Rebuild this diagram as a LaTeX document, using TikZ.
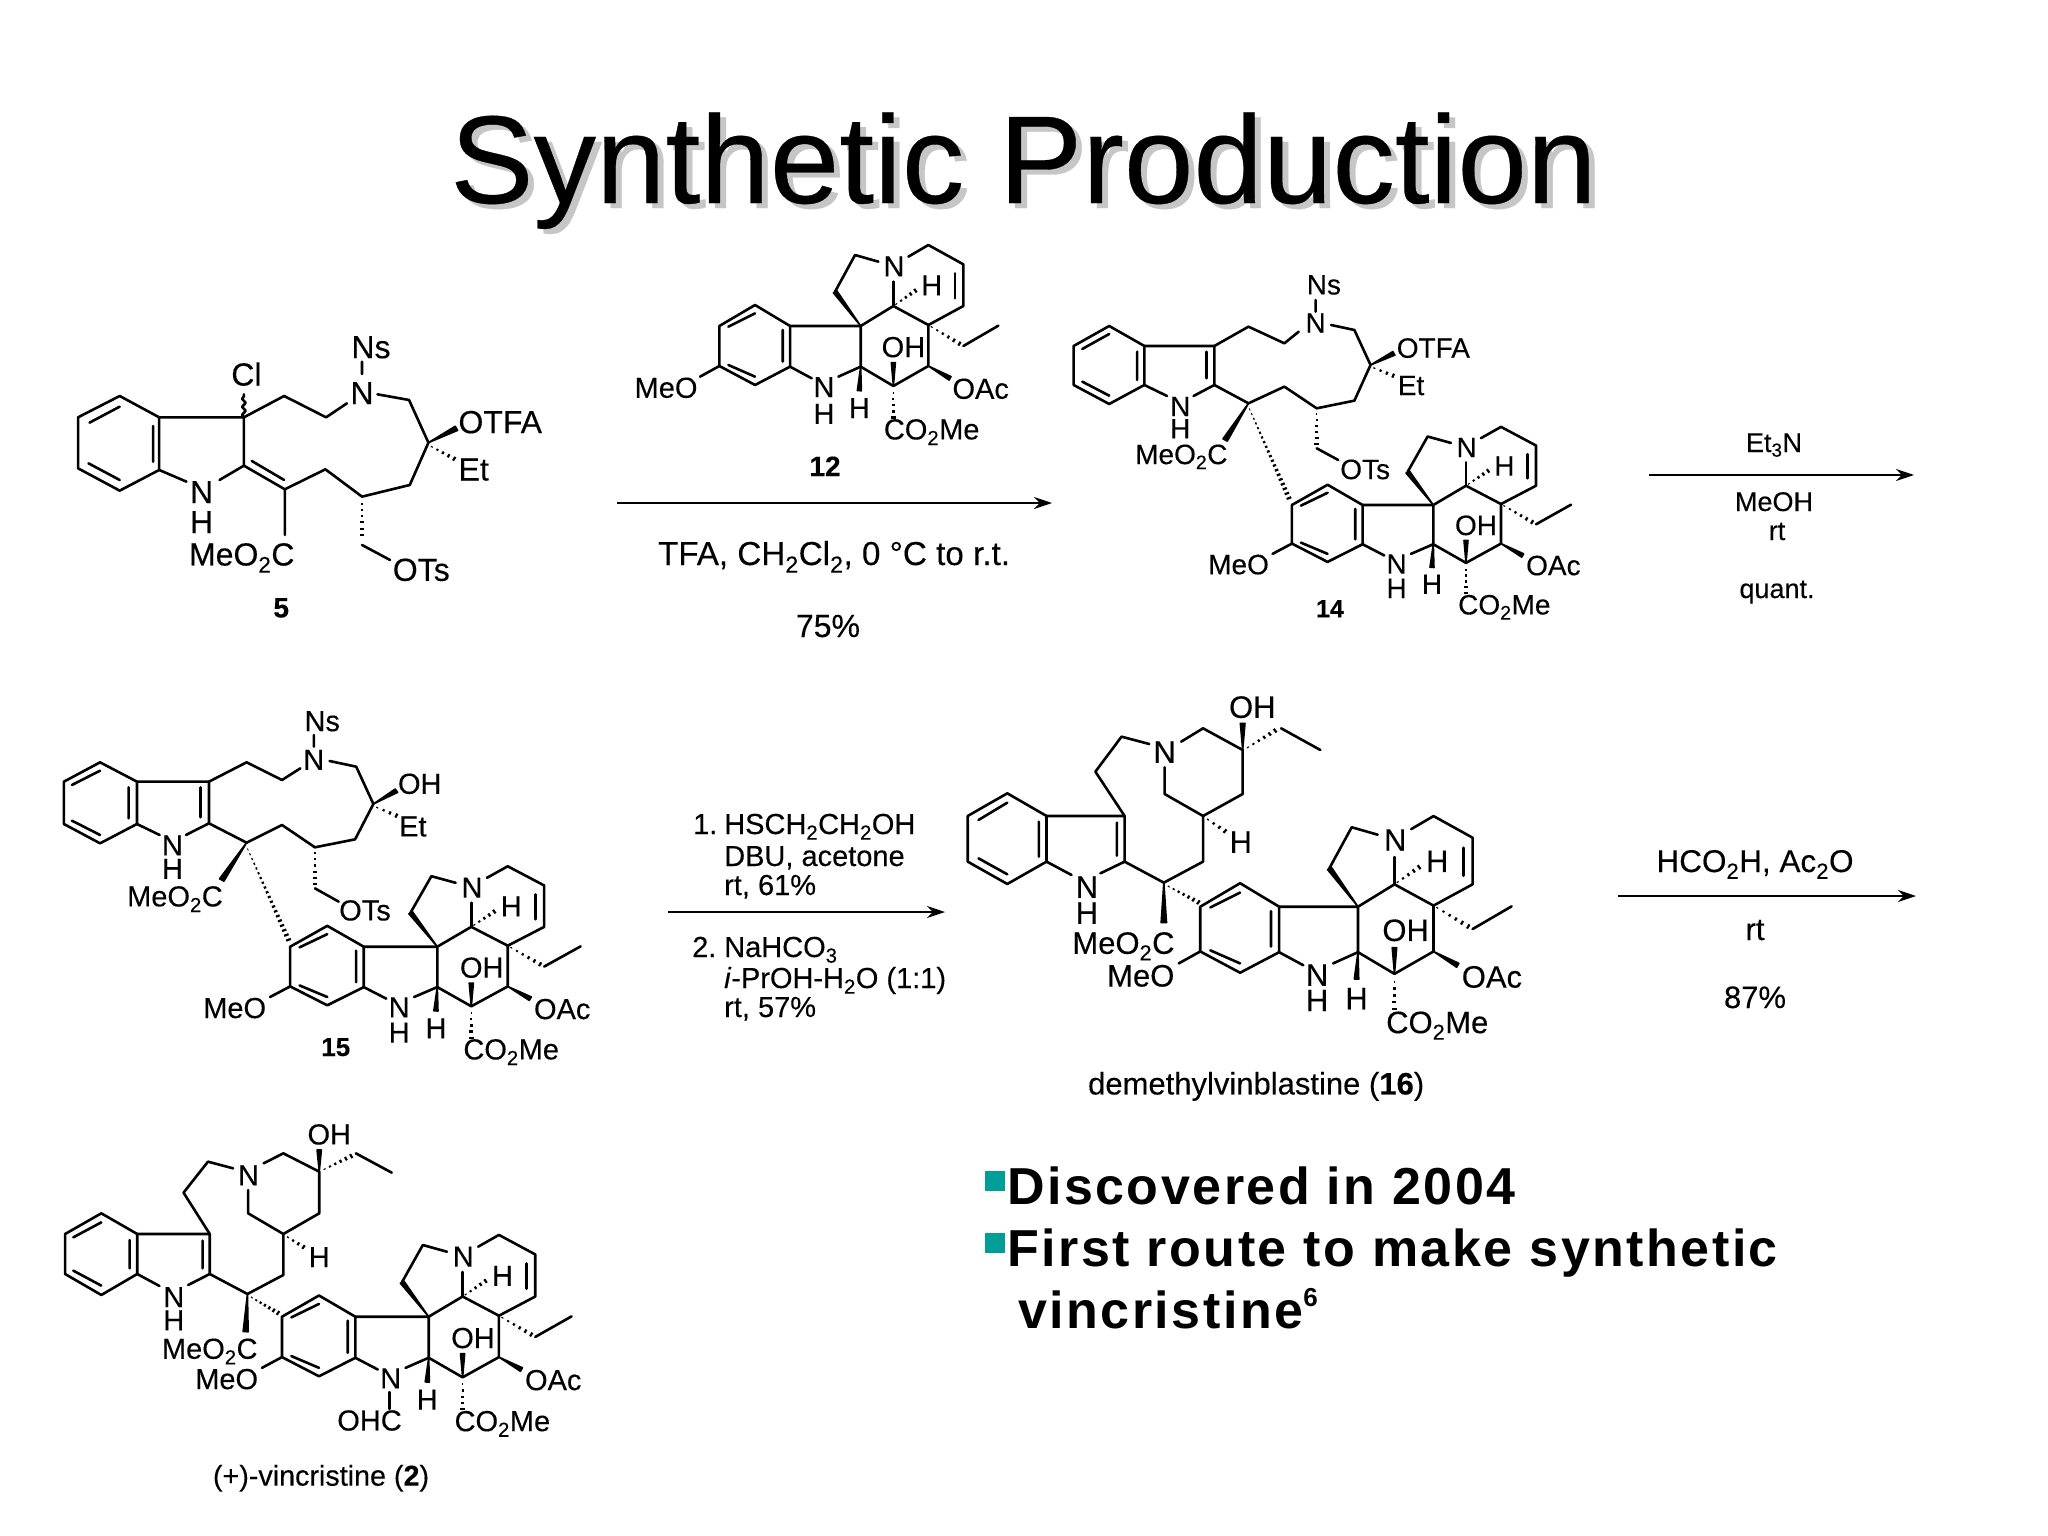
\documentclass[tikz,border=0pt]{standalone}
\usepackage{fontspec}
\setmainfont[FakeBold=0.25]{Liberation Sans}
\newfontfamily\bulletfont[LetterSpace=4.8]{Liberation Sans}
\usetikzlibrary{calc,arrows.meta,decorations.pathmorphing}
\tikzset{
  bond/.style={line width=2.6pt,line join=round,line cap=round},
  hashline/.style={line width=2.2pt},
  atom/.style={inner sep=0pt,font=\fontsize{#1}{#1}\selectfont,text height=#1pt*.72,text depth=0pt},
  reagent/.style={inner sep=0pt,anchor=base,font=\fontsize{#1}{#1}\selectfont},
  rxnarrow/.style={line width=2.2pt,-{Stealth[length=18pt,width=12pt]}},
  bulletbox/.style={fill=teal0,minimum size=20pt,inner sep=0pt},
  bullettext/.style={inner sep=0pt,anchor=base west,font=\fontsize{52}{52}\selectfont\bulletfont\bfseries},
  titletext/.style={inner sep=0pt,anchor=base west,font=\fontsize{125}{125}\selectfont}
}
\definecolor{teal0}{RGB}{0,158,150}
\newcommand\hashbond[3]{\foreach \i in {1,...,#3}{%
  \pgfmathsetmacro\hfrac{(\i-0.4)/#3}\pgfmathsetmacro\hwid{1+6*\hfrac}%
  \draw[hashline] ($(#1)!\hfrac!(#2)!\hwid pt!90:(#2)$) -- ($(#1)!\hfrac!(#2)!\hwid pt!-90:(#2)$);}}
\newcommand\wedgebond[3]{\filldraw[line width=1.6pt,line join=round] (#1) -- ($(#2)!#3pt!90:(#1)$) -- ($(#2)!#3pt!-90:(#1)$) -- cycle;}
\newcommand\vindoline[7]{%
\begin{scope}[name prefix=#1-,shift={(#2,#3)},xscale=#4,yscale=#5,shift={(-722,-288)},every node/.style={atom=#6}]
\draw[bond] (405,225)--(510,288)--(510,410)--(405,465)--(298,408)--(298,288)--cycle;
\draw[bond] (325,290)--(405,250) (488,300)--(488,395) (325,405)--(405,440);
\draw[bond] (510,288)--(722,288)--(722,410)--(820,468)--(925,408)--(925,285)--(820,228)--(722,288);
\draw[bond] (510,410)--(575,445) (655,440)--(722,410);
\draw[bond] (925,285)--(1030,228)--(1030,103)--(925,45)--(865,80);
\draw[bond] (1005,130)--(1005,205) (820,228)--(820,155);
\draw[bond] (775,95)--(705,75)--(645,185);
\draw[bond] (298,408)--(240,440) (1030,348)--(1135,287);
\wedgebond{722,288}{645,185}{6}
\wedgebond{722,410}{718,482}{6}
\wedgebond{820,468}{820,398}{6}
\wedgebond{925,408}{990,445}{6}
\hashbond{820,228}{892,178}{5}
\hashbond{925,285}{1025,345}{6}
\hashbond{820,478}{820,570}{5}
\node (nring) at (822,108) {N};
\node (hring) at (935,165) {H};
\node (oh) at (850,350) {OH};
\node (oac) at (1082,475) {OAc};
\node (meo) at (138,472) {MeO};
\node (ester) at (935,597) {CO\textsubscript{2}Me};
\node (nind) at (612,470) {N};
\node (hbelow) at (718,533) {H};
#7
\end{scope}}
\begin{document}
\begin{tikzpicture}[x=1pt,y=-1pt]
\useasboundingbox (0,0) rectangle (2048,1536);
\node[titletext,text=gray!45] (titleshade) at (456,208) {Synthetic Production};
\node[titletext] (title) at (450,203) {Synthetic Production};

\begin{scope}[name prefix=m5-,shift={(40,300)},xscale=.359,yscale=.3333,every node/.style={atom=32}]
\draw[bond] (222,288)--(332,352)--(332,510)--(222,572)--(106,505)--(106,352)--cycle;
\draw[bond] (138,368)--(222,320) (315,378)--(315,485) (135,490)--(222,540);
\draw[bond] (332,352)--(568,352)--(568,497)--(682,568)--(795,508)--(897,590)--(1030,555)--(1082,428)--(1028,300)--(940,283);
\draw[bond] (590,483)--(680,540) (332,510)--(408,545) (500,540)--(568,497);
\draw[bond] (568,352)--(680,288)--(797,352)--(855,310) (897,185)--(897,222);
\draw[bond] (682,568)--(682,705) (897,735)--(975,780);
\draw[bond,decorate,decoration={snake,amplitude=1.8pt,segment length=8pt}] (568,352)--(568,283);
\wedgebond{1082,428}{1160,385}{7}
\hashbond{1082,435}{1160,480}{5}
\hashbond{897,600}{897,712}{6}
\node (cl) at (575,222) {Cl};
\node (ns) at (922,140) {Ns};
\node (nring) at (897,278) {N};
\node (otfa) at (1282,365) {OTFA};
\node (et) at (1208,507) {Et};
\node (nind) at (450,575) {N};
\node (hind) at (450,665) {H};
\node (ester) at (562,762) {MeO\textsubscript{2}C};
\node (ots) at (1062,808) {OTs};
\node[atom=28] (label) at (672,922) {\textbf{5}};
\end{scope}

\vindoline{m12}{860.7}{326}{.3333}{.3333}{29}{%
\node (hind) at (612,550) {H};
\node[atom=28] (label) at (615,708) {\textbf{12}};}

\coordinate (a1s) at (617,503);
\coordinate (a1e) at (1052,503);
\draw[rxnarrow] (a1s) -- (a1e);
\node[reagent=33.2] (a1c) at (834,565) {TFA, CH\textsubscript{2}Cl\textsubscript{2}, 0 °C to r.t.};
\node[reagent=32] (a1y) at (828,637) {75\%};

\begin{scope}[name prefix=m14-,shift={(1060,250)},xscale=.359,yscale=.3333,every node/.style={atom=28}]
\draw[bond] (137,228)--(235,288)--(235,405)--(137,462)--(38,405)--(38,288)--cycle;
\draw[bond] (62,297)--(137,252) (215,305)--(215,390) (62,395)--(137,437);
\draw[bond] (235,288)--(430,288)--(430,405)--(525,460)--(625,410)--(715,475)--(820,452)--(865,345)--(820,240)--(755,225);
\draw[bond] (408,305)--(408,385) (235,405)--(298,438) (372,438)--(430,405);
\draw[bond] (430,288)--(525,230)--(625,280)--(665,245) (712,150)--(712,185) (715,595)--(775,630);
\wedgebond{865,345}{930,310}{6}
\wedgebond{525,460}{460,570}{7}
\hashbond{865,350}{935,380}{4}
\hashbond{525,470}{640,750}{20}
\hashbond{715,480}{715,590}{6}
\node (ns) at (735,103) {Ns};
\node (nring) at (712,218) {N};
\node (otfa) at (1040,293) {OTFA};
\node (et) at (978,405) {Et};
\node (nind) at (335,468) {N};
\node (hind) at (335,535) {H};
\node (ester) at (338,612) {MeO\textsubscript{2}C};
\node (ots) at (850,657) {OTs};
\node[atom=25] (label) at (752,1075) {\textbf{14}};
\end{scope}
\vindoline{f14}{1433.3}{505}{.3335}{.3215}{28}{\node (hind) at (612,546) {H};}

\coordinate (a2s) at (1649,475);
\coordinate (a2e) at (1914,475);
\draw[rxnarrow] (a2s) -- (a2e);
\node[reagent=27] (a2a) at (1774,452) {Et\textsubscript{3}N};
\node[reagent=27] (a2b) at (1774,511) {MeOH};
\node[reagent=27] (a2c) at (1777,540) {rt};
\node[reagent=27] (a2d) at (1777,598) {quant.};

\begin{scope}[name prefix=m15-,shift={(50,700)},xscale=.3654,yscale=.3333,every node/.style={atom=29}]
\draw[bond] (137,187)--(238,245)--(238,372)--(137,430)--(38,372)--(38,245)--cycle;
\draw[bond] (60,255)--(137,212) (215,262)--(215,355) (60,362)--(137,405);
\draw[bond] (238,245)--(435,245)--(435,370)--(538,428)--(635,375)--(725,442)--(835,418)--(885,312)--(838,200)--(765,183);
\draw[bond] (412,262)--(412,352) (238,372)--(300,405) (372,405)--(435,370);
\draw[bond] (435,245)--(538,187)--(635,240)--(685,205) (722,105)--(722,140) (725,565)--(790,605);
\wedgebond{885,312}{948,272}{6}
\wedgebond{538,428}{470,540}{7}
\hashbond{885,318}{955,350}{4}
\hashbond{538,440}{655,725}{20}
\hashbond{725,448}{725,560}{6}
\node (ns) at (745,62) {Ns};
\node (nring) at (722,178) {N};
\node (ohtop) at (1012,250) {OH};
\node (et) at (993,378) {Et};
\node (nind) at (335,435) {N};
\node (hind) at (335,505) {H};
\node (ester) at (342,588) {MeO\textsubscript{2}C};
\node (ots) at (862,630) {OTs};
\node[atom=26] (label) at (782,1040) {\textbf{15}};
\end{scope}
\vindoline{f15}{437.3}{946.7}{.347}{.331}{29}{\node (hind) at (612,546) {H};}

\coordinate (a3s) at (668,912);
\coordinate (a3e) at (945,912);
\draw[rxnarrow] (a3s) -- (a3e);
\node[reagent=29,anchor=base west] (a3a) at (693,834) {1.};
\node[reagent=29,anchor=base west] (a3b) at (724,834) {HSCH\textsubscript{2}CH\textsubscript{2}OH};
\node[reagent=29,anchor=base west] (a3c) at (724,866) {DBU, acetone};
\node[reagent=29,anchor=base west] (a3d) at (724,895) {rt, 61\%};
\node[reagent=29,anchor=base west] (a3e1) at (692,957) {2.};
\node[reagent=29,anchor=base west] (a3f) at (724,957) {NaHCO\textsubscript{3}};
\node[reagent=29,anchor=base west] (a3g) at (724,988) {\textit{i}-PrOH-H\textsubscript{2}O (1:1)};
\node[reagent=29,anchor=base west] (a3h) at (724,1017) {rt, 57\%};

\begin{scope}[name prefix=m16-,shift={(960,690)},xscale=.3846,yscale=.3333,every node/.style={atom=31}]
\draw[bond] (123,310)--(225,378)--(225,515)--(123,582)--(20,515)--(20,378)--cycle;
\draw[bond] (48,390)--(123,338) (205,395)--(205,500) (48,505)--(123,553);
\draw[bond] (225,378)--(428,378)--(428,515)--(530,578)--(632,515)--(632,378)--(735,312)--(735,180)--(632,115)--(575,155);
\draw[bond] (408,398)--(408,497) (225,515)--(290,555) (365,550)--(428,515);
\draw[bond] (428,378)--(352,245)--(420,140)--(492,162) (632,378)--(532,312)--(532,232) (835,115)--(937,180);
\wedgebond{735,180}{735,100}{6}
\wedgebond{530,578}{530,698}{7}
\hashbond{740,178}{825,118}{6}
\hashbond{636,382}{695,428}{4}
\hashbond{535,585}{625,640}{7}
\node (oh2) at (760,50) {OH};
\node (nring) at (532,185) {N};
\node (hpip) at (730,455) {H};
\node (nind) at (330,590) {N};
\node (hind) at (330,668) {H};
\node (ester) at (425,758) {MeO\textsubscript{2}C};
\node[atom=31] (label) at (770,1180) {demethylvinblastine (\textbf{16})};
\end{scope}
\vindoline{f16}{1358}{906.7}{.372}{.373}{31}{\node (hind) at (612,538) {H};}

\coordinate (a4s) at (1618,896);
\coordinate (a4e) at (1916,896);
\draw[rxnarrow] (a4s) -- (a4e);
\node[reagent=31.5] (a4a) at (1755,872) {HCO\textsubscript{2}H, Ac\textsubscript{2}O};
\node[reagent=31] (a4b) at (1755,940) {rt};
\node[reagent=31] (a4c) at (1755,1008) {87\%};

\begin{scope}[name prefix=m2-,shift={(50,1120)},xscale=.359,yscale=.3333,every node/.style={atom=29}]
\draw[bond] (143,280)--(243,342)--(243,462)--(143,525)--(42,462)--(42,342)--cycle;
\draw[bond] (65,352)--(143,307) (222,360)--(222,445) (65,452)--(143,497);
\draw[bond] (243,342)--(445,342)--(445,462)--(550,522)--(650,465)--(650,342)--(750,280)--(750,155)--(650,100)--(595,130);
\draw[bond] (425,362)--(425,445) (243,462)--(305,498) (385,495)--(445,462);
\draw[bond] (445,342)--(372,218)--(440,125)--(510,145) (650,342)--(552,280)--(552,210) (852,100)--(952,158);
\wedgebond{750,155}{750,90}{6}
\wedgebond{550,522}{545,635}{7}
\hashbond{756,152}{845,105}{6}
\hashbond{654,346}{712,385}{4}
\hashbond{555,528}{640,582}{7}
\node (oh2) at (778,42) {OH};
\node (nring) at (553,165) {N};
\node (hpip) at (750,410) {H};
\node (nind) at (345,530) {N};
\node (hind) at (345,600) {H};
\node (ester) at (445,685) {MeO\textsubscript{2}C};
\node[atom=28.7] (label) at (755,1066) {(+)-vincristine (\textbf{2})};
\end{scope}
\vindoline{f2}{428.7}{1316.7}{.346}{.3366}{29}{\draw[bond] (608,512)--(608,562);
\node (ohc) at (551,595) {OHC};}

\node[bulletbox] (b1) at (995,1181) {};
\node[bulletbox] (b2) at (995,1243) {};
\node[bullettext] (t1) at (1007,1204) {Discovered in 2004};
\node[bullettext] (t2) at (1007,1266) {First route to make synthetic};
\node[bullettext] (t3) at (1018,1328) {vincristine\raisebox{.42em}{\fontsize{26}{26}\selectfont 6}};
\end{tikzpicture}
\end{document}
